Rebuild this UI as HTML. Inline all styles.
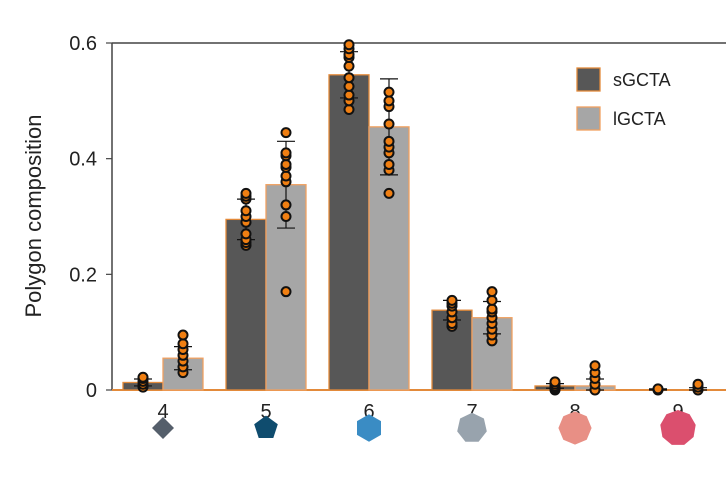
<!DOCTYPE html>
<html><head><meta charset="utf-8"><style>
html,body{margin:0;padding:0;background:#fff;}
svg{display:block;font-family:"Liberation Sans",sans-serif;}
</style></head><body>
<svg id="chart" width="726" height="477" viewBox="0 0 726 477">
<g id="axes"></g><g id="bars"></g><g id="pts"></g><g id="icons"></g>
</svg>
<script>
const categories=["4","5","6","7","8","9"];
const sValues=[0.013,0.295,0.545,0.138,0.007,0.0];
const lValues=[0.055,0.355,0.455,0.125,0.007,0.0];
const sErr=[0.006,0.035,0.04,0.017,0.004,0.002];
const lErr=[0.02,0.075,0.083,0.028,0.012,0.004];
const sPoints=[[0.005,0.01,0.015,0.02,0.022],[0.25,0.255,0.26,0.27,0.29,0.3,0.31,0.33,0.335,0.34],[0.485,0.5,0.51,0.525,0.54,0.56,0.575,0.58,0.59,0.597],[0.11,0.115,0.125,0.135,0.145,0.15,0.155],[0,0.003,0.006,0.01,0.014],[0,0.002]];
const lPoints=[[0.03,0.04,0.05,0.06,0.07,0.08,0.095],[0.17,0.3,0.32,0.36,0.37,0.385,0.39,0.405,0.41,0.445],[0.34,0.38,0.39,0.41,0.42,0.43,0.46,0.49,0.5,0.515],[0.085,0.095,0.105,0.115,0.125,0.135,0.14,0.155,0.17],[0,0.01,0.02,0.03,0.042],[0,0.005,0.01]];
const yTicks=[0,0.2,0.4,0.6];
const yTickLabels=["0","0.2","0.4","0.6"];
const seriesNames=["sGCTA","lGCTA"];
const iconSides=[4,5,6,7,8,9];
const iconColors=["#555f6b","#0f4c6e","#3a8cc4","#98a3ad","#e88f85","#db4f6e"];

const NS="http://www.w3.org/2000/svg";
const X0=112,Y0=390,YT=43,STEP=103,C0=163,BW=40;
const y=v=>Y0-(v/0.6)*(Y0-YT);
const xc=i=>C0+i*STEP;
function mk(t,a,p){const e=document.createElementNS(NS,t);for(const k in a)e.setAttribute(k,a[k]);p.appendChild(e);return e;}
const axes=document.getElementById('axes'),bars=document.getElementById('bars'),pts=document.getElementById('pts'),icons=document.getElementById('icons');

let e=mk('line',{x1:X0,y1:YT,x2:X0,y2:Y0,stroke:'#444','stroke-width':1.5},axes);

e=mk('line',{x1:X0,y1:YT,x2:726,y2:YT,stroke:'#444','stroke-width':1.5},axes);

yTicks.forEach((t,i)=>{
 let l=mk('line',{x1:X0-6,y1:y(t),x2:X0,y2:y(t),stroke:'#444','stroke-width':1.2},axes);
 
 let tx=mk('text',{x:97,y:y(t)+7,'text-anchor':'end','font-size':20,fill:'#222'},axes);
 tx.textContent=yTickLabels[i];
 
});
let yt=mk('text',{x:0,y:0,transform:'translate(41,216) rotate(-90)','text-anchor':'middle','font-size':22,fill:'#222'},axes);
yt.textContent='Polygon composition';


function errbar(cx,v,err){
 const g=mk('g',{stroke:'#111','stroke-width':1.2},pts);
 
 const lo=Math.max(0,v-err),hi=v+err;
 mk('line',{x1:cx,y1:y(lo),x2:cx,y2:y(hi)},g);
 mk('line',{x1:cx-9,y1:y(hi),x2:cx+9,y2:y(hi)},g);
 mk('line',{x1:cx-9,y1:y(lo),x2:cx+9,y2:y(lo)},g);
}
categories.forEach((c,i)=>{
 const cx=xc(i);
 let b=mk('rect',{x:cx-BW,y:y(sValues[i]),width:BW,height:Y0-y(sValues[i]),fill:'#575757',stroke:'#e38a3a','stroke-width':1.3},bars);
 
 b=mk('rect',{x:cx,y:y(lValues[i]),width:BW,height:Y0-y(lValues[i]),fill:'#a6a6a6',stroke:'#f0a060','stroke-width':1.3},bars);
 
 errbar(cx-BW/2,sValues[i],sErr[i]);
 errbar(cx+BW/2,lValues[i],lErr[i]);
 sPoints[i].forEach(v=>{let p=mk('circle',{cx:cx-BW/2,cy:y(v),r:4.5,fill:'#f07f12',stroke:'#111','stroke-width':2},pts);
  });
 lPoints[i].forEach(v=>{let p=mk('circle',{cx:cx+BW/2,cy:y(v),r:4.5,fill:'#f07f12',stroke:'#111','stroke-width':2},pts);
  });
 let t=mk('text',{x:cx,y:418,'text-anchor':'middle','font-size':20,fill:'#222'},axes);
 t.textContent=c;
 
 const n=iconSides[i],r=11+i*1.4;let s=[];
 for(let k=0;k<n;k++){const a=-Math.PI/2+k*2*Math.PI/n;s.push((cx+r*Math.cos(a)).toFixed(1)+','+(428+r*Math.sin(a)).toFixed(1));}
 let pg=mk('polygon',{points:s.join(' '),fill:iconColors[i]},icons);
 
});
let xa=mk('line',{x1:X0,y1:Y0,x2:726,y2:Y0,stroke:'#e38a3a','stroke-width':2},axes);


const lg=mk('g',{},axes);

[['#575757','#e38a3a',68],['#a6a6a6','#f0a060',107]].forEach((d,i)=>{
 let r=mk('rect',{x:577,y:d[2],width:23,height:23,fill:d[0],stroke:d[1],'stroke-width':1.3},lg);
 
 let t=mk('text',{x:613,y:d[2]+18,'font-size':18,fill:'#222'},lg);
 t.textContent=seriesNames[i];
 
});
</script>
</body></html>
